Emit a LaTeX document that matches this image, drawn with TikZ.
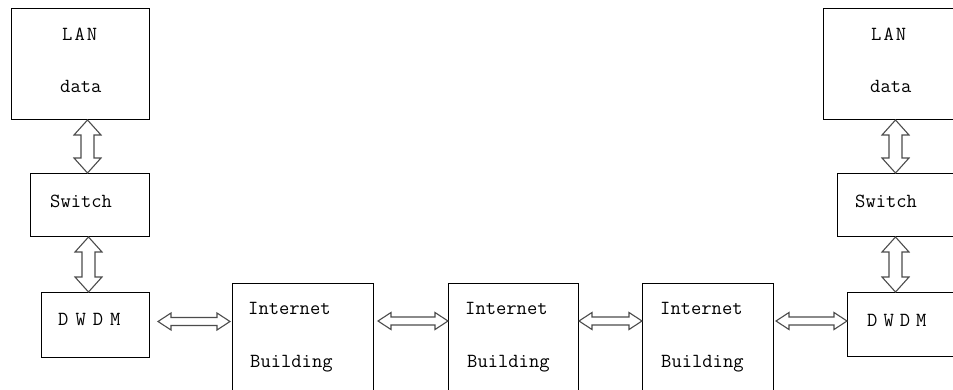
\documentclass[tikz,border=0pt]{standalone}
\usepackage{fontspec}
\usetikzlibrary{calc}
\begin{document}
\begin{tikzpicture}[x=1pt,y=-1pt,
  box/.style={draw,line width=1pt,inner sep=0pt,anchor=north west},
  lbl/.style={inner sep=0pt,anchor=base west,font=\ttfamily\fontsize{20}{21}\selectfont},
  arr/.style={draw=black!70,line width=1.1pt,fill=white,line join=miter},
  hdbl/.style={arr,to path={let \p1=(\tikztostart), \p2=(\tikztotarget) in
    (\x1,\y1) -- (\x1+13pt,\y1+8.5pt) -- (\x1+13pt,\y1+4pt) -- (\x2-13pt,\y1+4pt) -- (\x2-13pt,\y1+8.5pt)
    -- (\x2,\y1) -- (\x2-13pt,\y1-8.5pt) -- (\x2-13pt,\y1-4pt) -- (\x1+13pt,\y1-4pt) -- (\x1+13pt,\y1-8.5pt) -- cycle}},
  vdbl/.style={arr,to path={let \p1=(\tikztostart), \p2=(\tikztotarget) in
    (\x1,\y1) -- (\x1+13.5pt,\y1-15pt) -- (\x1+6.5pt,\y1-15pt) -- (\x1+6.5pt,\y2+15pt) -- (\x1+13.5pt,\y2+15pt)
    -- (\x1,\y2) -- (\x1-13.5pt,\y2+15pt) -- (\x1-6.5pt,\y2+15pt) -- (\x1-6.5pt,\y1-15pt) -- (\x1-13.5pt,\y1-15pt) -- cycle}}
]
\useasboundingbox (0,0) rectangle (953,389);
\clip (0,0) rectangle (953,389);
\fill[white] (0,0) rectangle (953,389);

% left column
\node[box,minimum width=138pt,minimum height=111pt] (lanL) at (11,8) {};
\node[box,minimum width=119pt,minimum height=63pt] (swL) at (30,173) {};
\node[box,minimum width=108pt,minimum height=65pt] (dwL) at (41,292) {};
% internet buildings
\node[box,minimum width=141pt,minimum height=130pt] (ib1) at (232,283) {};
\node[box,minimum width=130pt,minimum height=130pt] (ib2) at (448,283) {};
\node[box,minimum width=131pt,minimum height=130pt] (ib3) at (642,283) {};
% right column
\node[box,minimum width=150pt,minimum height=111pt] (lanR) at (823,8) {};
\node[box,minimum width=140pt,minimum height=63pt] (swR) at (837,173) {};
\node[box,minimum width=130pt,minimum height=64pt] (dwR) at (847,292) {};

% labels
\node[lbl] (tLanL) at (62,40) {L\kern2pt A\kern2pt N};
\node[lbl] (tDataL) at (60,92) {data};
\node[lbl] (tSwL) at (50,207) {Switch};
\node[lbl] (tDwL) at (58,325) {D\kern7pt W\kern7pt D\kern7pt M};
\node[lbl] (tIn1) at (248,314) {Internet};
\node[lbl] (tBu1) at (250,367) {Building};
\node[lbl] (tIn2) at (465,314) {Internet};
\node[lbl] (tBu2) at (467,367) {Building};
\node[lbl] (tIn3) at (660,314) {Internet};
\node[lbl] (tBu3) at (661,367) {Building};
\node[lbl] (tLanR) at (871,40) {L\kern2pt A\kern2pt N};
\node[lbl] (tDataR) at (870,92) {data};
\node[lbl] (tSwR) at (855,207) {Switch};
\node[lbl] (tDwR) at (867,326) {D\kern6pt W\kern6pt D\kern6pt M};

% vertical double arrows
\draw[vdbl] ([xshift=7pt]lanL.south) to ([xshift=7pt]lanL.south |- swL.north);
\draw[vdbl] ([xshift=-1.5pt]swL.south) to ([xshift=-1.5pt]swL.south |- dwL.north);
\draw[vdbl] ([xshift=-3pt]lanR.south) to ([xshift=-3pt]lanR.south |- swR.north);
\draw[vdbl] ([xshift=-12pt]swR.south) to ([xshift=-12pt]swR.south |- dwR.north);

% horizontal double arrows
\draw[hdbl] ([shift={(8pt,3.5pt)}]dwL.east) to ([xshift=-2pt,yshift=3.5pt]dwL.east -| ib1.west);
\draw[hdbl] ([shift={(4pt,-38pt)}]ib1.north east) to ([yshift=-38pt]ib2.north west);
\draw[hdbl] ([yshift=-38pt]ib2.north east) to ([yshift=-38pt]ib3.north west);
\draw[hdbl] ([shift={(2pt,-38pt)}]ib3.north east) to ([yshift=-38pt]ib3.north east -| dwR.west);
\end{tikzpicture}
\end{document}
